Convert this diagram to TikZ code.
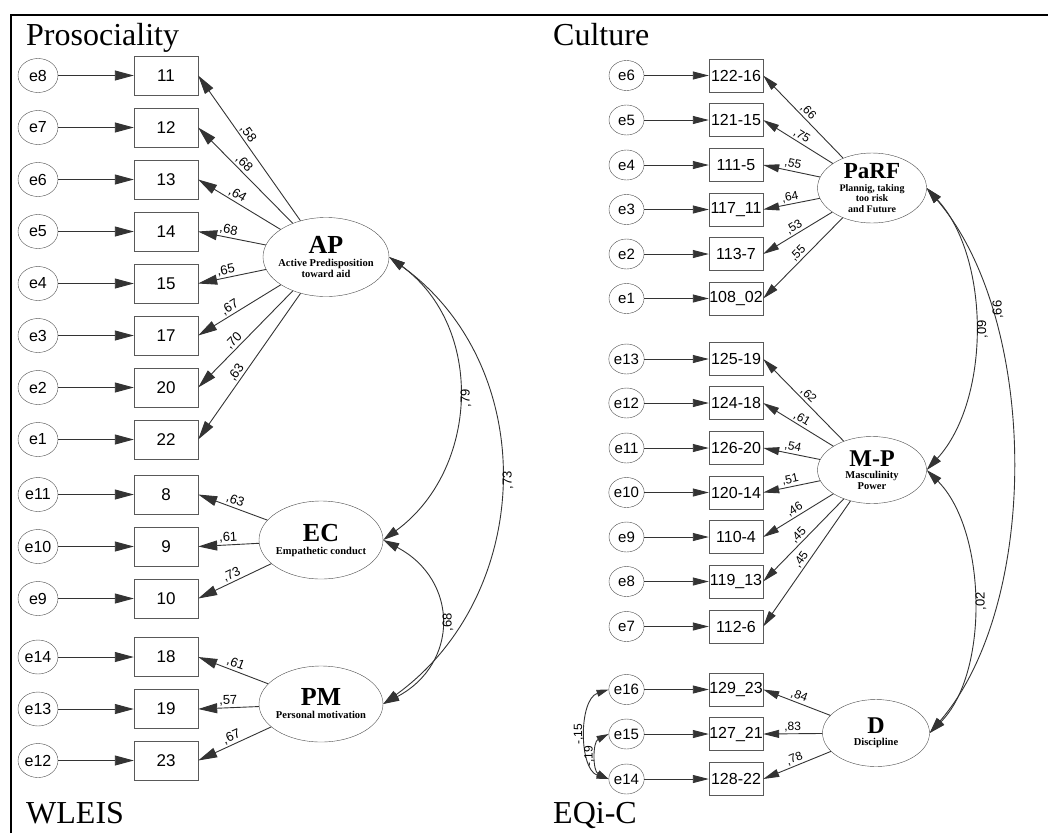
\documentclass[tikz,border=0pt]{standalone}
\usepackage{fontspec}
\setmainfont{Liberation Serif}
\setsansfont{Liberation Sans}
\usetikzlibrary{arrows.meta,shapes.geometric}

\tikzset{
  err/.style={draw=black!70, ellipse, minimum width=40pt, minimum height=34pt, inner sep=0pt, font=\sffamily\fontsize{16}{16}\selectfont},
  errr/.style={err, minimum width=35pt, minimum height=30pt, font=\sffamily\fontsize{15}{15}\selectfont},
  item/.style={draw=black!65, rectangle, minimum width=64pt, minimum height=39pt, inner sep=0pt, font=\sffamily\fontsize{17}{17}\selectfont},
  itemr/.style={item, minimum width=54pt, minimum height=33pt, font=\sffamily\fontsize{16}{16}\selectfont},
  factor/.style={draw=black!70, ellipse, inner sep=0pt},
  lattext/.style={align=center, inner sep=0pt, font=\bfseries\fontsize{10.5}{11}\selectfont},
  load/.style={-{Triangle[length=19pt,width=10pt]}, line width=0.9pt, draw=black!80},
  loadr/.style={-{Triangle[length=16pt,width=8pt]}, line width=0.9pt, draw=black!80},
  corr/.style={{Triangle[length=16pt,width=9pt]}-{Triangle[length=16pt,width=9pt]}, line width=0.9pt, draw=black!80},
  corrs/.style={{Triangle[length=12pt,width=7pt]}-{Triangle[length=12pt,width=7pt]}, line width=0.9pt, draw=black!80},
  coef/.style={sloped, above, inner sep=1.5pt, font=\sffamily\fontsize{13}{13}\selectfont},
  coefr/.style={coef, font=\sffamily\fontsize{12}{12}\selectfont},
  arccoef/.style={rotate=90, anchor=north, inner sep=2pt, font=\sffamily\fontsize{13}{13}\selectfont},
  heading/.style={anchor=base west, inner sep=0pt, font=\fontsize{32}{32}\selectfont}
}

\begin{document}
\begin{tikzpicture}[x=1pt,y=-1pt]
  \useasboundingbox (0,0) rectangle (1048,833);
  \draw[line width=2.5pt] (11,833) -- (11,15) -- (1048,15);

  \node[heading] (tpro) at (26,45) {Prosociality};
  \node[heading] (tcul) at (553,45) {Culture};
  \node[heading] (twle) at (26,823) {WLEIS};
  \node[heading] (teqi) at (553,823) {EQi-C};

  % left model
  \foreach \e/\b/\y in {8/11/75.5,7/12/127.5,6/13/179.5,5/14/231.5,4/15/283.5,3/17/335.5,2/20/387.5,1/22/439.5,
                        11/8/494.5,10/9/546.5,9/10/598.5,14/18/657,13/19/709,12/23/760.5}{
    \node[err] (le\e) at (38,\y) {e\e};
    \node[item] (b\b) at (166,\y) {\b};
    \draw[load] (le\e) -- (b\b);
  }

  \node[factor, minimum width=126pt, minimum height=79pt,
        label={[lattext]center:{\fontsize{26}{26}\selectfont AP}\\[2pt]Active Predisposition\\toward aid}] (AP) at (326,257) {};
  \node[factor, minimum width=124pt, minimum height=78pt,
        label={[lattext]center:{\fontsize{26}{26}\selectfont EC}\\[2pt]Empathetic conduct}] (EC) at (321,540) {};
  \node[factor, minimum width=124pt, minimum height=76pt,
        label={[lattext]center:{\fontsize{26}{26}\selectfont PM}\\[2pt]Personal motivation}] (PM) at (321,704) {};

  \foreach \b/\c in {11/{,58},12/{,68},13/{,64},14/{,68},15/{,65},17/{,67},20/{,70},22/{,63}}
    \draw[load] (AP) -- node[coef, pos=0.57]{\c} (b\b.east);
  \foreach \b/\c in {8/{,63},9/{,61},10/{,73}}
    \draw[load] (EC) -- node[coef]{\c} (b\b.east);
  \foreach \b/\c in {18/{,61},19/{,57},23/{,67}}
    \draw[load] (PM) -- node[coef]{\c} (b\b.east);

  \draw[corr] (AP.east) .. controls +(96,70) and +(96,-70) .. node[arccoef, pos=0.5]{,79} (EC.east);
  \draw[corr] (AP.east) .. controls +(152,110) and +(152,-110) .. node[arccoef, pos=0.5]{,73} (PM.east);
  \draw[corr] (EC.east) .. controls +(76,40) and +(76,-40) .. node[arccoef, pos=0.5]{,68} (PM.east);

  % right model
  \foreach \n/\e/\t/\y in {1/6/122-16/75.5,2/5/121-15/120,3/4/111-5/165,4/3/117\_11/209.5,5/2/113-7/254,6/1/108\_02/298.5,
                           7/13/125-19/359,8/12/124-18/403,9/11/126-20/448,10/10/120-14/492.5,11/9/110-4/537,12/8/119\_13/581.5,13/7/112-6/626.5,
                           14/16/129\_23/689.5,15/15/127\_21/734,16/14/128-22/779}{
    \node[errr] (re\e) at (626.5,\y) {e\e};
    \node[itemr] (v\n) at (736,\y) {\t};
    \draw[loadr] (re\e) -- (v\n);
  }

  \node[factor, minimum width=109pt, minimum height=70pt,
        label={[lattext, font=\bfseries\fontsize{10}{10.5}\selectfont]center:{\fontsize{23}{23}\selectfont PaRF}\\[2pt]Plannig, taking\\too risk\\and Future}] (PaRF) at (872,188) {};
  \node[factor, minimum width=109pt, minimum height=67pt,
        label={[lattext]center:{\fontsize{24}{24}\selectfont M-P}\\[1pt]Masculinity\\Power}] (MP) at (872,470) {};
  \node[factor, minimum width=107pt, minimum height=67pt,
        label={[lattext]center:{\fontsize{24}{24}\selectfont D}\\[1pt]Discipline}] (D) at (876,733) {};

  \foreach \n/\c in {1/{,66},2/{,75},3/{,55},4/{,64},5/{,53},6/{,55}}
    \draw[loadr] (PaRF) -- node[coefr]{\c} (v\n.east);
  \foreach \n/\c in {7/{,62},8/{,61},9/{,54},10/{,51},11/{,46},12/{,45},13/{,45}}
    \draw[loadr] (MP) -- node[coefr]{\c} (v\n.east);
  \foreach \n/\c in {14/{,84},15/{,83},16/{,78}}
    \draw[loadr] (D) -- node[coefr]{\c} (v\n.east);

  \draw[corr] (PaRF.east) .. controls +(64,70) and +(64,-70) .. node[arccoef, pos=0.5]{,09} (MP.east);
  \draw[corr] (PaRF.east) .. controls +(112,130) and +(112,-130) .. node[arccoef, pos=0.25]{,66} (D.east);
  \draw[corr] (MP.east) .. controls +(60,60) and +(60,-60) .. node[arccoef, pos=0.5]{,02} (D.east);

  \draw[corrs] (re16.west) .. controls +(-30,10) and +(-30,-10) .. node[pos=0.5, rotate=90, anchor=south, inner sep=2pt, font=\sffamily\fontsize{12}{12}\selectfont]{-,15} (re14.west);
  \draw[corrs] (re15.west) .. controls +(-16,8) and +(-16,-8) .. node[pos=0.5, rotate=90, anchor=south, inner sep=2pt, font=\sffamily\fontsize{12}{12}\selectfont]{-,19} (re14.west);
\end{tikzpicture}
\end{document}
